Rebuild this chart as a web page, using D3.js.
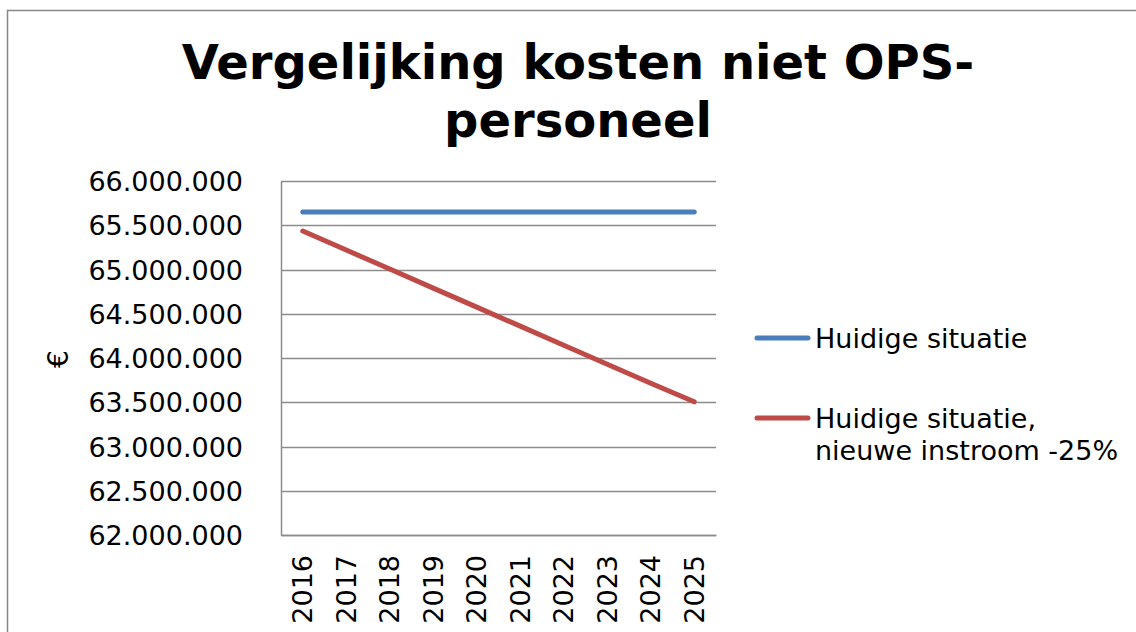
<!DOCTYPE html>
<html><head><meta charset="utf-8">
<script src="https://cdn.jsdelivr.net/npm/d3@7/dist/d3.min.js"></script>
<style>body{margin:0;background:#fff}svg{display:block}text{font-family:"DejaVu Sans",Verdana,sans-serif;fill:#000}</style>
</head><body><svg id="c" width="1136" height="632"></svg>
<script>
const years = ["2016","2017","2018","2019","2020","2021","2022","2023","2024","2025"];
const huidige = [65650000,65650000,65650000,65650000,65650000,65650000,65650000,65650000,65650000,65650000];
const instroom = [65435000,65220000,65005000,64790000,64575000,64360000,64145000,63930000,63715000,63505000];
const seriesNames = ["Huidige situatie", ["Huidige situatie,", "nieuwe instroom -25%"]];
const yTicks = [62000000,62500000,63000000,63500000,64000000,64500000,65000000,65500000,66000000];
const titleLines = ["Vergelijking kosten niet OPS-", "personeel"];
const colors = ["#4a7ebb", "#be4b48"];

const svg = d3.select("#c");
svg.append("rect").attr("x",7.5).attr("y",10.5).attr("width",1140).attr("height",640)
  .attr("fill","none").attr("stroke","#888").attr("stroke-width",1.5);

const L=281, R=716, T=181, B=535;
const x = d3.scaleBand().domain(years).range([L,R]);
const y = d3.scaleLinear().domain([62000000,66000000]).range([B,T]);
const fmt = v => d3.format(",")(v).replace(/,/g,".");

// title
svg.append("text").attr("text-anchor","middle").attr("font-weight","bold").attr("font-size",48)
  .selectAll("tspan").data(titleLines).join("tspan")
  .attr("x",578).attr("y",(d,i)=>79+i*58).text(d=>d);

// gridlines
svg.append("g").selectAll("line").data(yTicks).join("line")
  .attr("x1",L).attr("x2",R).attr("y1",d=>Math.round(y(d))+0.5).attr("y2",d=>Math.round(y(d))+0.5)
  .attr("stroke","#8c8c8c").attr("stroke-width",1.5);

// y axis
const ya = svg.append("g").attr("transform",`translate(${L},0)`)
  .call(d3.axisLeft(y).tickValues(yTicks).tickFormat(fmt).tickSize(0).tickPadding(38));
ya.select(".domain").attr("stroke","#8c8c8c").attr("stroke-width",1.5);
ya.selectAll("text").attr("font-size",27).attr("font-family","DejaVu Sans").attr("dy","0.36em");

// x axis
const xa = svg.append("g").attr("transform",`translate(0,${B})`)
  .call(d3.axisBottom(x).tickSize(0).tickPadding(0));
xa.select(".domain").attr("stroke","#8c8c8c").attr("stroke-width",1.5);
xa.selectAll("text").attr("font-size",27).attr("font-family","DejaVu Sans")
  .attr("text-anchor","end").attr("transform","rotate(-90)")
  .attr("x",-20).attr("y",0).attr("dy","0.36em");

// y title
svg.append("text").attr("transform","translate(58,359) rotate(-90)")
  .attr("text-anchor","middle").attr("dy","0.36em").attr("font-size",28).text("€");

// lines
const line = d3.line().x((d,i)=>x(years[i])+x.bandwidth()/2).y(d=>y(d));
[huidige, instroom].forEach((s,i)=>{
  svg.append("path").datum(s).attr("d",line).attr("fill","none")
    .attr("stroke",colors[i]).attr("stroke-width",5).attr("stroke-linecap","round");
});

// legend
const leg = [{y:338, lines:[seriesNames[0]]},{y:418, lines:seriesNames[1]}];
leg.forEach((d,i)=>{
  svg.append("line").attr("x1",757).attr("x2",808).attr("y1",d.y).attr("y2",d.y)
    .attr("stroke",colors[i]).attr("stroke-width",5).attr("stroke-linecap","round");
  svg.append("text").attr("font-size",27).selectAll("tspan").data(d.lines).join("tspan")
    .attr("x",815).attr("y",(t,j)=>d.y+10+j*32).text(t=>t);
});
</script></body></html>
